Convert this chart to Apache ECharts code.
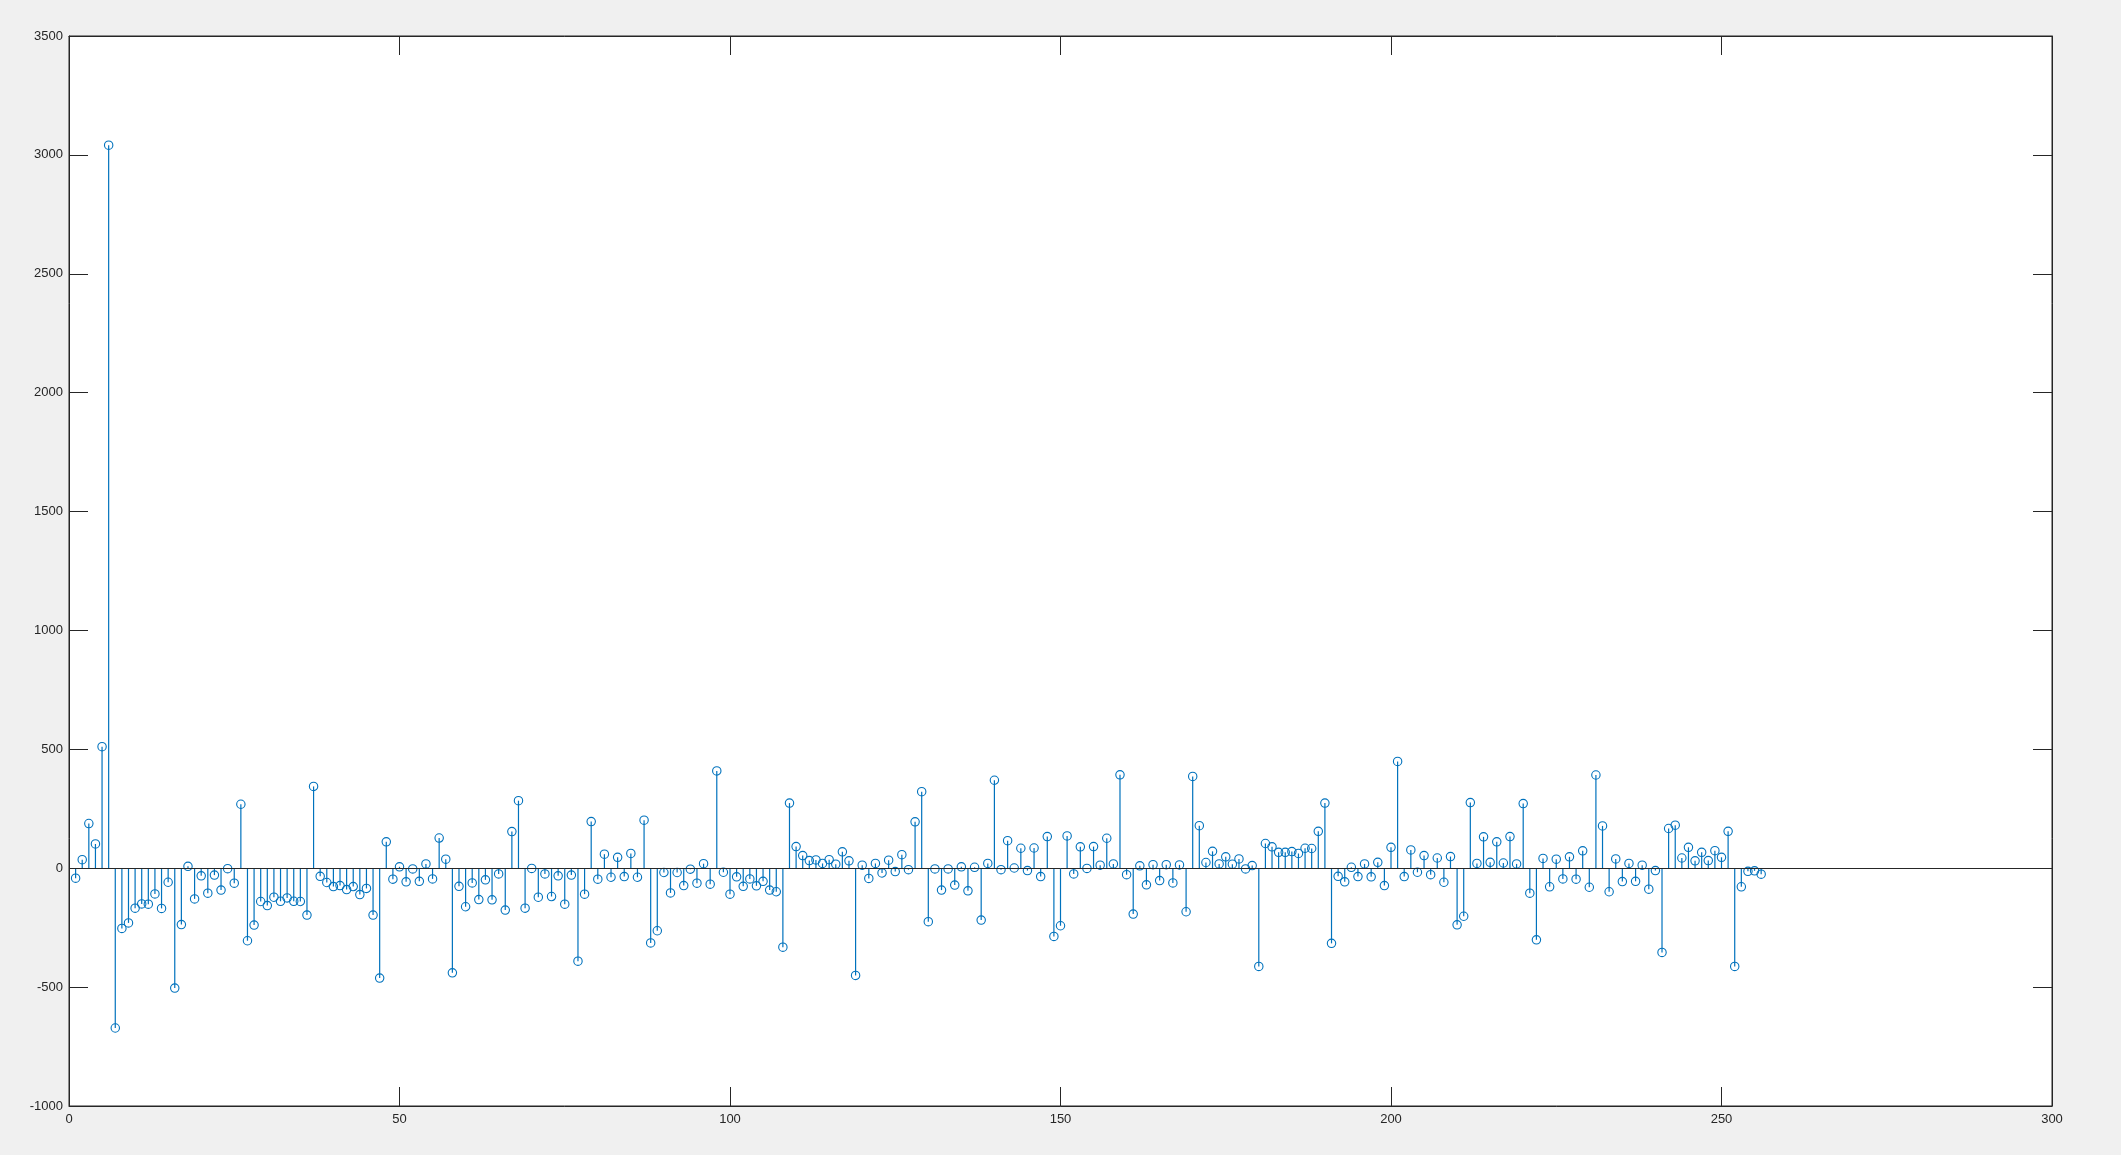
<!DOCTYPE html>
<html>
<head>
<meta charset="utf-8">
<script src="https://cdn.jsdelivr.net/npm/echarts@6/dist/echarts.min.js"></script>
<style>
html,body{margin:0;padding:0;background:#f0f0f0;}
#chart{width:2121px;height:1155px;}
</style>
</head>
<body>
<div id="chart"></div>
<script>
// stem values, index 1..256
const values = [
  -42, 36, 188, 102, 511, 3041, -672, -253, -230, -168, -150, -151, -108, -169, -59, -504,
  -237, 8, -129, -32, -105, -29, -92, -2, -63, 269, -305, -239, -140, -157, -122, -139,
  -125, -139, -140, -197, 344, -34, -60, -77, -73, -90, -77, -111, -85, -197, -462, 111,
  -46, 6, -57, -3, -55, 18, -45, 127, 38, -440, -76, -162, -62, -132, -49, -133,
  -24, -176, 154, 284, -168, -1, -122, -24, -119, -32, -151, -29, -391, -109, 196, -46,
  59, -38, 46, -35, 62, -38, 202, -314, -263, -18, -104, -18, -73, -4, -63, 19,
  -67, 409, -17, -109, -36, -76, -45, -74, -55, -92, -99, -332, 274, 91, 53, 32,
  35, 20, 36, 17, 69, 31, -451, 13, -43, 20, -20, 34, -14, 57, -6, 195,
  322, -225, -3, -92, -3, -71, 6, -95, 4, -218, 20, 370, -6, 116, 1, 84,
  -10, 85, -35, 133, -287, -242, 136, -24, 90, -1, 91, 13, 126, 18, 393, -27,
  -193, 10, -70, 15, -52, 15, -62, 14, -183, 386, 179, 24, 71, 18, 48, 17,
  39, -3, 11, -413, 104, 90, 67, 67, 70, 62, 84, 83, 155, 274, -316, -34,
  -57, 4, -35, 18, -36, 25, -73, 88, 449, -35, 77, -17, 53, -27, 43, -59,
  49, -238, -202, 276, 20, 132, 25, 111, 22, 133, 18, 272, -105, -301, 41, -78,
  38, -45, 48, -46, 73, -80, 392, 178, -99, 39, -56, 20, -55, 13, -88, -10,
  -354, 167, 181, 43, 88, 31, 67, 32, 74, 46, 155, -413, -78, -13, -11, -25
];
const xTicks = { min: 0, max: 300, step: 50 };
const yTicks = { min: -1000, max: 3500, step: 500 };

const stemData = values.map((v, i) => [i + 1, v]);

const axisColor = '#262626';
const labelFont = { color: axisColor, fontSize: 13, fontFamily: 'Liberation Sans, Arial, sans-serif' };
const plainNum = v => String(v);

function mkX(pos, showLabel) {
  return {
    type: 'value', position: pos, min: xTicks.min, max: xTicks.max, interval: xTicks.step,
    axisLine: { show: true, onZero: false, lineStyle: { color: axisColor, width: 1 } },
    axisTick: { show: true, inside: true, length: 19, lineStyle: { color: axisColor } },
    axisLabel: Object.assign({ show: showLabel, margin: 7, formatter: plainNum }, labelFont),
    splitLine: { show: false }
  };
}
function mkY(pos, showLabel) {
  return {
    type: 'value', position: pos, min: yTicks.min, max: yTicks.max, interval: yTicks.step,
    axisLine: { show: true, onZero: false, lineStyle: { color: axisColor, width: 1 } },
    axisTick: { show: true, inside: true, length: 19, lineStyle: { color: axisColor } },
    axisLabel: Object.assign({ show: showLabel, margin: 6, formatter: plainNum }, labelFont),
    splitLine: { show: false }
  };
}

const chart = echarts.init(document.getElementById('chart'), null, { renderer: 'canvas' });
chart.setOption({
  backgroundColor: '#f0f0f0',
  animation: false,
  grid: { left: 69, right: 69, top: 36, bottom: 49, show: true, backgroundColor: '#ffffff', borderColor: axisColor, borderWidth: 1 },
  xAxis: [mkX('bottom', true), mkX('top', false)],
  yAxis: [mkY('left', true), mkY('right', false)],
  series: [
    {
      type: 'custom',
      xAxisIndex: 0, yAxisIndex: 0,
      data: stemData,
      clip: false,
      renderItem: function (params, api) {
        const x = api.value(0), y = api.value(1);
        const p0 = api.coord([x, 0]);
        const p1 = api.coord([x, y]);
        return {
          type: 'group',
          children: [
            { type: 'line', shape: { x1: p0[0], y1: p0[1], x2: p1[0], y2: p1[1] },
              style: { stroke: '#0072BD', lineWidth: 1.2 } },
            { type: 'circle', shape: { cx: p1[0], cy: p1[1], r: 4.2 },
              style: { stroke: '#0072BD', fill: null, lineWidth: 1.1 } }
          ]
        };
      },
      markLine: {
        silent: true, symbol: 'none', label: { show: false },
        lineStyle: { color: axisColor, width: 1, type: 'solid' },
        data: [{ yAxis: 0 }]
      },
      z: 3
    }
  ]
});
</script>
</body>
</html>
